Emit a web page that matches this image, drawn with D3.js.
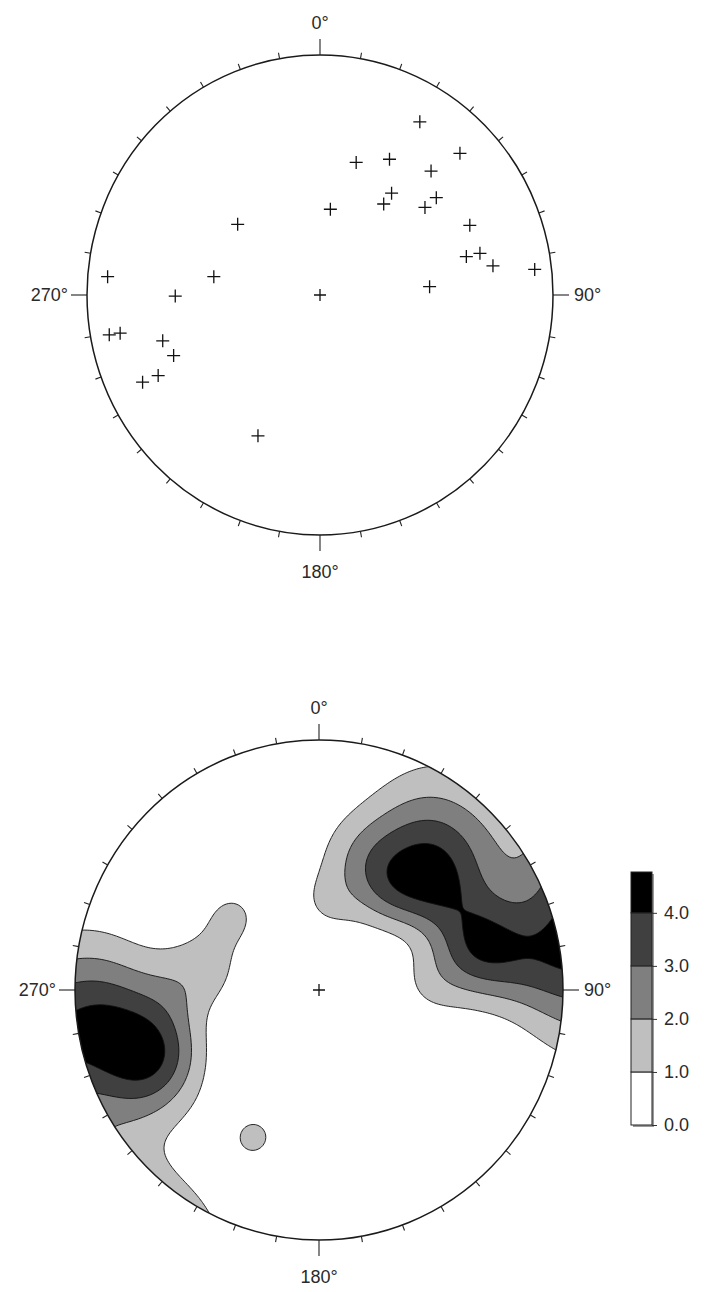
<!DOCTYPE html>
<html>
<head>
<meta charset="utf-8">
<script src="https://cdn.jsdelivr.net/npm/d3@7"></script>
<style>
body { margin: 0; background: #fff; }
svg { display: block; }
text { font-family: "Liberation Sans", Arial, sans-serif; fill: #2a2a2a; }
</style>
</head>
<body>
<svg width="707" height="1292"></svg>
<script>
// poles: trend / plunge in degrees (wulff net)
const trends  = [30.7, 45.5, 15.7, 27.8, 42.7, 35.9, 35.8, 50.9, 51.0, 7.1, 309.8, 65.7, 75.7, 75.8,
                 80.7, 83.4, 85.8, 274.8, 279.5, 269.6, 259.6, 259.5, 254.2, 248.1, 244.2, 244.5, 204.4];
const plunges = [10.0, 9.8, 30.3, 24.8, 19.8, 34.7, 39.9, 24.5, 29.8, 50.4, 40.6, 19.6, 24.1, 19.4,
                 16.1, 4.3, 39.5, 5.1, 40.4, 26.3, 4.8, 7.8, 19.9, 21.8, 14.7, 9.7, 24.4];

const dirAngles = [0, 90, 180, 270];
const dirLabels = ["0°", "90°", "180°", "270°"];

const contourLevels = [1, 2, 3, 4];
const levelColors = ["#bfbfbf", "#7f7f7f", "#404040", "#000000"];
const legendTicks = [0, 1, 2, 3, 4];
const legendMax = 4.77;

// fisher smoothing of the density
const kappa = 30;
const peak = 1.07;

const rad = Math.PI / 180;
const svg = d3.select("svg");

// lower hemisphere, equal angle
function project(trend, plunge) {
	let t = trend * rad, p = plunge * rad;
	let r = Math.tan((Math.PI / 2 - p) / 2);
	return [r * Math.sin(t), r * Math.cos(t)];
}

function drawNet(cx, cy, rx, ry) {
	const g = svg.append("g");
	const x = d3.scaleLinear().domain([-1, 1]).range([cx - rx, cx + rx]);
	const y = d3.scaleLinear().domain([-1, 1]).range([cy + ry, cy - ry]);
	return {g, x, y, cx, cy, rx, ry};
}

function drawFrame(net) {
	const {g, x, y, cx, cy, rx, ry} = net;
	g.append("ellipse")
		.attr("cx", cx).attr("cy", cy).attr("rx", rx).attr("ry", ry)
		.attr("fill", "none").attr("stroke", "#1a1a1a").attr("stroke-width", 1.5);

	const ticks = d3.range(0, 360, 10);
	g.append("g").selectAll("line")
		.data(ticks)
		.join("line")
		.attr("x1", d => x(Math.sin(d * rad)))
		.attr("y1", d => y(Math.cos(d * rad)))
		.attr("x2", d => x(Math.sin(d * rad) * (1 + (d % 90 ? 6 : 16) / rx)))
		.attr("y2", d => y(Math.cos(d * rad) * (1 + (d % 90 ? 6 : 16) / ry)))
		.attr("stroke", "#222")
		.attr("stroke-width", 1.1);

	g.selectAll("text.dir")
		.data(dirAngles)
		.join("text")
		.attr("class", "dir")
		.attr("font-size", 18)
		.attr("x", d => d == 90 ? cx + rx + 21 : d == 270 ? cx - rx - 19 : cx)
		.attr("y", d => d == 0 ? cy - ry - 26 : d == 180 ? cy + ry + 43 : cy)
		.attr("dy", d => d == 90 || d == 270 ? "0.36em" : null)
		.attr("text-anchor", d => d == 90 ? "start" : d == 270 ? "end" : "middle")
		.text((d, i) => dirLabels[i]);

	drawCross(g, cx, cy, 6);
}

function drawCross(g, px, py, s) {
	g.append("path")
		.attr("d", `M${px - s},${py}H${px + s}M${px},${py - s}V${py + s}`)
		.attr("stroke", "#111")
		.attr("stroke-width", 1.3)
		.attr("fill", "none");
}

// ---- upper net: poles
const upperNet = drawNet(320, 295, 233, 240);
drawFrame(upperNet);
trends.forEach((t, i) => {
	let p = project(t, plunges[i]);
	drawCross(upperNet.g, upperNet.x(p[0]), upperNet.y(p[1]), 6.5);
});

// ---- lower net: density contours
const lowerNet = drawNet(319, 990, 244, 250);

const vecs = trends.map((t, i) => {
	let tr = t * rad, pl = plunges[i] * rad;
	return [Math.cos(pl) * Math.cos(tr), Math.cos(pl) * Math.sin(tr), Math.sin(pl)];
});

const n = 221, ext = 1.1;
const gx = d3.scaleLinear().domain([0.5, n - 0.5]).range([-ext, ext]);
const gy = d3.scaleLinear().domain([0.5, n - 0.5]).range([ext, -ext]);
const values = new Float64Array(n * n);
for (let j = 0; j < n; j++) {
	for (let i = 0; i < n; i++) {
		let px = gx(i + 0.5), py = gy(j + 0.5);
		let r = Math.hypot(px, py);
		let th = 2 * Math.atan(r);
		let s = Math.sin(th);
		let v = [r ? s * py / r : 0, r ? s * px / r : 0, Math.cos(th)];
		let sum = 0;
		vecs.forEach(u => {
			let c = Math.abs(u[0] * v[0] + u[1] * v[1] + u[2] * v[2]);
			sum += Math.exp(kappa * (c - 1));
		});
		values[j * n + i] = peak * sum;
	}
}

const contours = d3.contours().size([n, n]).thresholds(contourLevels)(values);
const path = d3.geoPath(d3.geoTransform({
	point: function(a, b) { this.stream.point(lowerNet.x(gx(a)), lowerNet.y(gy(b))); }
}));

svg.append("clipPath").attr("id", "netclip")
	.append("ellipse")
	.attr("cx", lowerNet.cx).attr("cy", lowerNet.cy).attr("rx", lowerNet.rx).attr("ry", lowerNet.ry);

lowerNet.g.append("g")
	.attr("clip-path", "url(#netclip)")
	.selectAll("path")
	.data(contours)
	.join("path")
	.attr("d", path)
	.attr("fill", (d, i) => levelColors[i])
	.attr("stroke", "#111")
	.attr("stroke-width", 0.9);

drawFrame(lowerNet);

// ---- legend
const ly = d3.scaleLinear().domain([0, legendMax]).range([1125, 872]);
const legend = svg.append("g");
const bands = [0].concat(contourLevels);
legend.append("rect")
	.attr("x", 633).attr("y", ly(legendMax) + 2).attr("width", 21).attr("height", ly(0) - ly(legendMax))
	.attr("fill", "#9a9a9a");
legend.selectAll("rect.band")
	.data(bands)
	.join("rect")
	.attr("class", "band")
	.attr("x", 631)
	.attr("width", 21)
	.attr("y", (d, i) => ly(i < bands.length - 1 ? bands[i + 1] : legendMax))
	.attr("height", (d, i) => ly(d) - ly(i < bands.length - 1 ? bands[i + 1] : legendMax))
	.attr("fill", (d, i) => i ? levelColors[i - 1] : "#fff")
	.attr("stroke", "#222")
	.attr("stroke-width", 1);

const laxis = legend.append("g")
	.attr("transform", "translate(652,0)")
	.call(d3.axisRight(ly).tickValues(legendTicks).tickFormat(d3.format(".1f")).tickSize(5).tickPadding(7));
laxis.select(".domain").remove();
laxis.selectAll("line").attr("stroke", "#333");
laxis.selectAll("text").attr("font-size", 18).attr("font-family", "Liberation Sans, Arial, sans-serif").attr("fill", "#2a2a2a");
</script>
</body>
</html>
